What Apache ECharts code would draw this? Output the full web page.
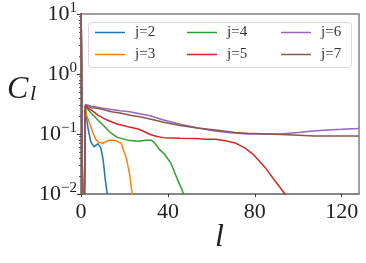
<!DOCTYPE html>
<html><head><meta charset="utf-8">
<script src="https://cdn.jsdelivr.net/npm/echarts@6/dist/echarts.min.js"></script>
<style>html,body{margin:0;padding:0;background:#fff}#c{width:366px;height:263px}</style>
</head><body><div id="c"></div>
<script>
const seriesNames = ['j=2','j=3','j=4','j=5','j=6','j=7'];
const colors = ['#1f77b4','#ff7f0e','#2ca02c','#d62728','#9467bd','#8c564b'];
const xTicks = [0,40,80,120];
const yTicks = [0.01,0.1,1,10];
const yMinorTicks = [0.02,0.03,0.04,0.05,0.06,0.07,0.08,0.09,0.2,0.3,0.4,0.5,0.6,0.7,0.8,0.9,2,3,4,5,6,7,8,9];

const j2L = [0,1,2,3.2,4.5,6,7.8,9.1,10.2,11.2,12,13];
const j2C = [30,1e-4,0.27,0.126,0.074,0.061,0.069,0.059,0.037,0.017,0.0104,0.006];
const j3L = [0,1,2,2.5,4,5.5,7,8.5,10,13,16,18.5,21,22.5,23.5,24.5];
const j3C = [30,1e-4,0.28,0.21,0.15,0.104,0.079,0.072,0.07,0.079,0.078,0.07,0.038,0.02,0.0103,0.006];
const j4L = [0,1,2,4.8,7.8,10.9,14,17,21.7,26.3,30,32.3,34,36,38.5,41.5,44,46.5,47.3,48.5];
const j4C = [30,1e-4,0.29,0.22,0.171,0.132,0.102,0.087,0.079,0.076,0.079,0.079,0.07,0.056,0.046,0.032,0.019,0.0117,0.0099,0.007];
const j5L = [0,1,2,4.8,7.8,10.9,14,17,21.7,26.3,29,31.8,35,38,45.7,53,57,62,66.5,71,75.6,79.5,82.5,85,88.6,94,96];
const j5C = [30,1e-4,0.29,0.25,0.207,0.178,0.16,0.145,0.132,0.121,0.11,0.098,0.091,0.087,0.085,0.084,0.082,0.082,0.077,0.071,0.058,0.045,0.034,0.027,0.018,0.0099,0.007];
const j6L = [0,1,2,4.8,10,14,18,22.5,27,31.8,38,45.7,53.3,61.5,69,76.5,82.5,91.8,101,107,113.4,120,127.3,128];
const j6C = [30,1e-4,0.31,0.29,0.27,0.255,0.245,0.235,0.218,0.202,0.171,0.145,0.127,0.112,0.105,0.1,0.101,0.1,0.107,0.112,0.117,0.12,0.124,0.125];
const j7L = [0,1,2,4.8,7.8,10.9,14,18.6,23.2,27,31.8,38,45.7,53.6,62,71,76.5,88.7,98,107.4,113.4,127.3,128];
const j7C = [30,1e-4,0.3,0.275,0.268,0.251,0.235,0.221,0.203,0.194,0.178,0.157,0.138,0.126,0.117,0.106,0.103,0.099,0.096,0.093,0.093,0.093,0.093];

const allL = [j2L,j3L,j4L,j5L,j6L,j7L];
const allC = [j2C,j3C,j4C,j5C,j6C,j7C];

const FONT = 'Liberation Serif';
const axisColor = '#808080';

const series = seriesNames.map((n,i)=>({
  name: n, type: 'line', symbol: 'none', clip: true,
  data: allL[i].map((l,k)=>[l, allC[i][k]]),
  lineStyle: {color: colors[i], width: 1.5},
  itemStyle: {color: colors[i]},
  xAxisIndex: 0, yAxisIndex: 0
}));

const legendCols = [[0,1],[2,3],[4,5]];
const legendLeft = [95,187,281];
const legends = legendCols.map((c,i)=>({
  orient: 'vertical', left: legendLeft[i], top: 25, padding: 0,
  icon: 'rect', itemWidth: 30, itemHeight: 1.5, itemGap: 7,
  data: c.map(k=>seriesNames[k]),
  textStyle: {fontFamily: FONT, fontSize: 15, color: '#333', padding: [0,0,0,5], lineHeight: 14}
}));

function supLabel(v){
  const e = Math.round(Math.log10(v));
  const s = e < 0 ? '\u2212' + (-e) : String(e);
  return '{b|10}{s|' + s + '}';
}

const chart = echarts.init(document.getElementById('c'));
chart.setOption({
  animation: false,
  backgroundColor: '#fff',
  grid: {left: 81, right: 7, top: 14, bottom: 69, show: true, borderColor: axisColor, borderWidth: 1.5, containLabel: false},
  legend: legends,
  xAxis: {
    type: 'value', min: 0, max: 128, interval: 40,
    axisLine: {show: true, onZero: false, lineStyle: {color: axisColor, width: 1.5}},
    axisTick: {show: true, length: 3, customValues: xTicks, lineStyle: {color: '#333'}},
    axisLabel: {customValues: xTicks, fontFamily: FONT, fontSize: 22, color: '#222', margin: 7},
    splitLine: {show: false}
  },
  yAxis: [{
    type: 'log', logBase: 10, min: 0.01, max: 10,
    axisLine: {show: true, lineStyle: {color: axisColor, width: 1.5}},
    axisTick: {show: true, length: 4, customValues: yTicks, lineStyle: {color: '#333'}},
    axisLabel: {customValues: yTicks, margin: 4, formatter: supLabel,
      rich: {
        b: {fontFamily: FONT, fontSize: 22, color: '#222'},
        s: {fontFamily: FONT, fontSize: 15, color: '#222', padding: [0,0,12,0]}
      }},
    splitLine: {show: false}
  },{
    type: 'log', logBase: 10, min: 0.01, max: 10, position: 'left',
    axisLine: {show: false},
    axisTick: {show: true, length: 2, customValues: yMinorTicks, lineStyle: {color: '#555'}},
    axisLabel: {show: false},
    splitLine: {show: false}
  }],
  graphic: [
    {type: 'rect', left: 88, top: 22, shape: {width: 263, height: 45, r: 3}, z: 1,
     style: {fill: 'rgba(255,255,255,0.8)', stroke: '#d8d8d8', lineWidth: 1}},
    {type: 'text', left: 7, top: 74, z: 10, style: {text: 'C', font: 'italic 32px "Liberation Serif"', fill: '#222'}},
    {type: 'text', left: 30, top: 83, z: 10, style: {text: 'l', font: 'italic 22px "Liberation Serif"', fill: '#222'}},
    {type: 'text', left: 215, top: 222, z: 10, style: {text: 'l', font: 'italic 32px "Liberation Serif"', fill: '#222'}}
  ],
  series: series
});
</script>
</body></html>
